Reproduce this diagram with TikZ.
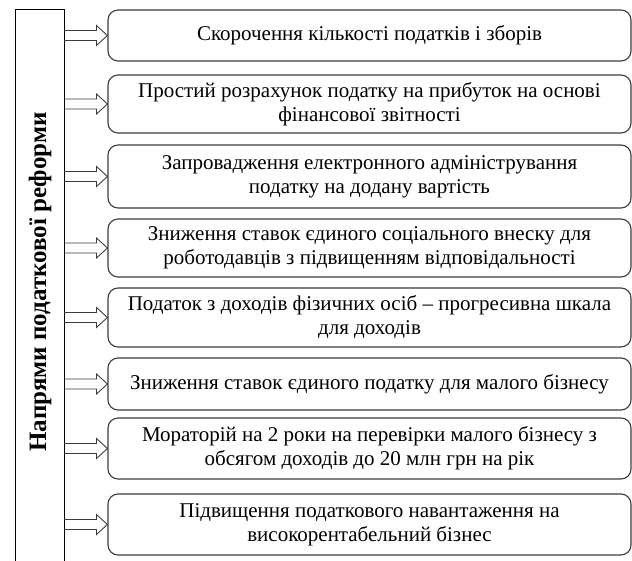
\documentclass[tikz,border=0pt]{standalone}
\usepackage{fontspec}
\setmainfont{Liberation Serif}
\usepackage{xcolor}
\usepackage{tikz}

\definecolor{framegray}{RGB}{60,60,60}

\tikzset{
	item/.style={draw=framegray, line width=1.1pt, rounded corners=10pt, minimum width=523pt, align=center, inner sep=2pt, font=\fontsize{21}{24}\selectfont},
	hollow/.style={draw=framegray, line width=0.9pt, to path={([yshift=5pt]\tikztostart) -- ([xshift=-11pt,yshift=5pt]\tikztotarget) -- ([xshift=-11pt,yshift=10pt]\tikztotarget) -- (\tikztotarget) -- ([xshift=-11pt,yshift=-10pt]\tikztotarget) -- ([xshift=-11pt,yshift=-5pt]\tikztotarget) -- ([yshift=-5pt]\tikztostart)}}
}

\begin{document}
\begin{tikzpicture}[x=1pt,y=1pt,yscale=-1,xscale=1]
	\useasboundingbox (0,0) rectangle (632,561);
	
	% left column, open at the bottom
	\draw [line width=1pt] (15,561) -- (15,10) -- (64,10) -- (64,561);
	\coordinate (colR) at (64,10);
	% Text Node
	\node [rotate=90, font=\fontsize{25}{28}\selectfont\bfseries] (title) at (40,282) {Напрями податкової реформи};
	
	% Boxes
	\node [item, minimum height=51pt] (b1) at (369.5,35.5) {Скорочення кількості податків і зборів};
	\node [item, minimum height=58pt] (b2) at (369.5,104) {Простий розрахунок податку на прибуток на основі\\фінансової звітності};
	\node [item, minimum height=63pt] (b3) at (369.5,176.5) {Запровадження електронного адміністрування\\податку на додану вартість};
	\node [item, minimum height=58pt] (b4) at (369.5,248) {Зниження ставок єдиного соціального внеску для\\роботодавців з підвищенням відповідальності};
	\node [item, minimum height=59pt] (b5) at (369.5,317.5) {Податок з доходів фізичних осіб – прогресивна шкала\\для доходів};
	\node [item, minimum height=52pt] (b6) at (369.5,384) {Зниження ставок єдиного податку для малого бізнесу};
	\node [item, minimum height=61pt] (b7) at (369.5,448.5) {Мораторій на 2 роки на перевірки малого бізнесу з\\обсягом доходів до 20 млн грн на рік};
	\node [item, minimum height=61pt] (b8) at (369.5,524.5) {Підвищення податкового навантаження на\\високорентабельний бізнес};
	
	% Arrows
	\foreach \i in {1,...,8} {
		\coordinate (s\i) at (colR |- b\i.west);
		\draw [hollow] (s\i) to (b\i.west);
	}
\end{tikzpicture}
\end{document}
